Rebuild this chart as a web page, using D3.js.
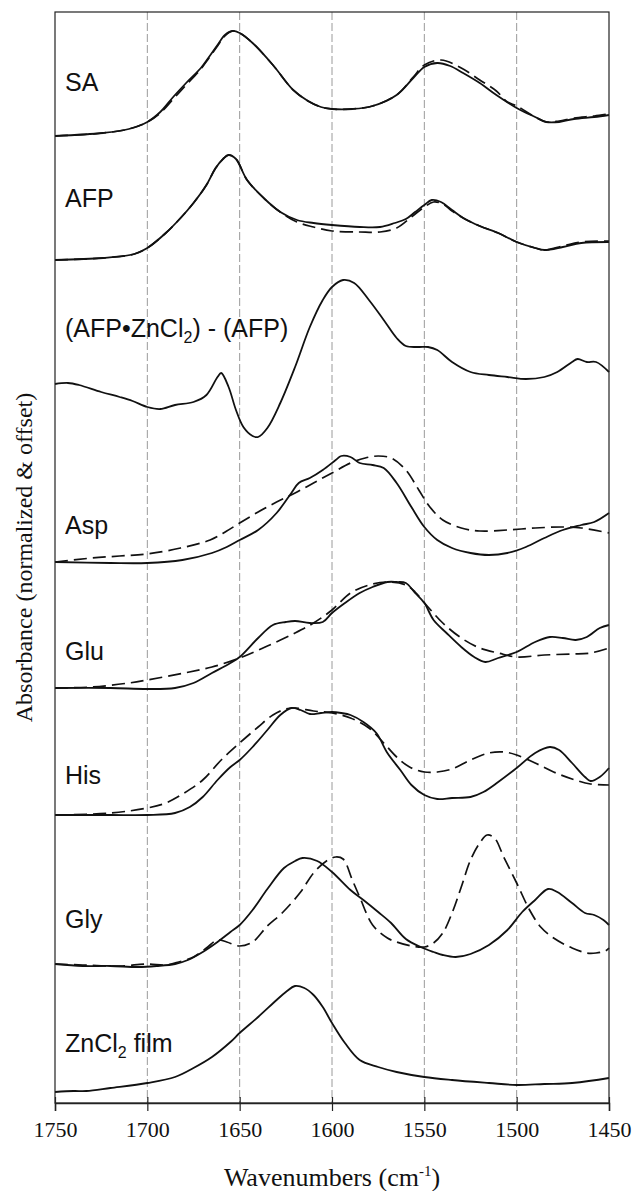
<!DOCTYPE html>
<html>
<head>
<meta charset="utf-8">
<script src="https://cdnjs.cloudflare.com/ajax/libs/d3/7.8.5/d3.min.js"></script>
<style>
  body { margin: 0; background: #fff; }
  svg { display: block; }
</style>
</head>
<body>
<svg></svg>
<script>
// x ticks (wavenumbers, axis runs high -> low)
var xTicks = [1750, 1700, 1650, 1600, 1550, 1500, 1450];
var gridTicks = [1700, 1650, 1600, 1550, 1500];

// spectra: [wavenumber, absorbance (normalized & offset)]
var saSolid = [[1750,9.67],[1724,9.70],[1710,9.74],[1700,9.81],[1693,9.91],[1686,10.06],[1679,10.20],[1671,10.35],[1667,10.45],[1662,10.58],[1658,10.68],[1654,10.72],[1650,10.70],[1643,10.60],[1632,10.38],[1621,10.13],[1613,10.02],[1606,9.96],[1600,9.94],[1589,9.94],[1578,9.97],[1565,10.08],[1556,10.25],[1550,10.36],[1543,10.40],[1536,10.37],[1529,10.30],[1520,10.20],[1511,10.08],[1500,9.95],[1490,9.86],[1484,9.81],[1477,9.81],[1469,9.84],[1458,9.86],[1450,9.88]];
var saDash = [[1750,9.67],[1724,9.70],[1710,9.74],[1700,9.81],[1693,9.90],[1686,10.04],[1679,10.18],[1671,10.34],[1667,10.44],[1662,10.57],[1658,10.67],[1654,10.72],[1650,10.70],[1643,10.60],[1632,10.38],[1621,10.13],[1613,10.02],[1606,9.96],[1600,9.94],[1589,9.94],[1578,9.97],[1565,10.08],[1556,10.26],[1550,10.38],[1541,10.43],[1530,10.35],[1520,10.23],[1511,10.12],[1505,10.01],[1500,9.97],[1490,9.86],[1484,9.81],[1477,9.82],[1469,9.85],[1458,9.87],[1450,9.89]];

var afpSolid = [[1750,8.43],[1724,8.45],[1707,8.49],[1700,8.55],[1690,8.70],[1682,8.85],[1675,9.00],[1668,9.18],[1663,9.35],[1659,9.44],[1656,9.48],[1652,9.44],[1646,9.23],[1637,9.05],[1628,8.91],[1619,8.83],[1610,8.80],[1600,8.78],[1585,8.76],[1574,8.76],[1566,8.80],[1560,8.84],[1555,8.91],[1550,8.98],[1546,9.03],[1541,9.01],[1535,8.93],[1528,8.84],[1520,8.77],[1510,8.70],[1500,8.61],[1490,8.55],[1485,8.53],[1475,8.56],[1465,8.60],[1450,8.61]];
var afpDash = [[1750,8.43],[1724,8.45],[1707,8.49],[1700,8.55],[1690,8.70],[1682,8.85],[1675,9.00],[1668,9.18],[1663,9.35],[1659,9.44],[1656,9.48],[1652,9.44],[1646,9.23],[1637,9.05],[1628,8.91],[1619,8.81],[1610,8.76],[1600,8.72],[1585,8.71],[1574,8.71],[1565,8.75],[1557,8.86],[1550,8.96],[1545,9.01],[1540,8.99],[1535,8.92],[1528,8.84],[1520,8.77],[1510,8.70],[1500,8.61],[1490,8.55],[1485,8.53],[1475,8.57],[1465,8.61],[1450,8.62]];

var diffSolid = [[1750,7.19],[1743,7.20],[1737,7.18],[1725,7.11],[1715,7.06],[1708,7.02],[1700,6.96],[1693,6.94],[1685,6.98],[1675,7.01],[1668,7.08],[1662,7.26],[1660,7.30],[1656,7.16],[1652,6.93],[1648,6.76],[1643,6.67],[1640,6.66],[1635,6.75],[1628,7.00],[1620,7.36],[1612,7.76],[1605,8.03],[1600,8.16],[1594,8.23],[1588,8.20],[1580,8.03],[1572,7.83],[1565,7.65],[1560,7.57],[1553,7.56],[1548,7.56],[1543,7.53],[1535,7.41],[1525,7.31],[1515,7.28],[1505,7.26],[1495,7.24],[1485,7.26],[1478,7.31],[1470,7.41],[1467,7.44],[1462,7.41],[1457,7.41],[1450,7.31]];

var aspSolid = [[1750,5.41],[1720,5.40],[1700,5.40],[1681,5.43],[1665,5.50],[1657,5.56],[1650,5.63],[1640,5.73],[1630,5.90],[1622,6.10],[1618,6.20],[1612,6.25],[1605,6.33],[1598,6.43],[1595,6.47],[1590,6.46],[1585,6.40],[1578,6.38],[1572,6.35],[1565,6.20],[1557,5.96],[1550,5.76],[1543,5.63],[1535,5.55],[1525,5.50],[1515,5.48],[1505,5.50],[1495,5.56],[1485,5.65],[1475,5.73],[1465,5.78],[1458,5.81],[1450,5.90]];
var aspDash = [[1750,5.41],[1730,5.45],[1715,5.47],[1700,5.49],[1682,5.55],[1666,5.63],[1657,5.72],[1650,5.80],[1640,5.91],[1630,6.01],[1620,6.10],[1610,6.20],[1600,6.30],[1590,6.40],[1582,6.45],[1575,6.47],[1568,6.45],[1560,6.33],[1553,6.13],[1547,5.96],[1540,5.83],[1530,5.75],[1520,5.72],[1505,5.73],[1490,5.75],[1475,5.76],[1465,5.75],[1450,5.70]];

var gluSolid = [[1750,4.15],[1720,4.15],[1700,4.14],[1685,4.15],[1675,4.20],[1665,4.30],[1655,4.40],[1650,4.46],[1640,4.65],[1632,4.78],[1625,4.81],[1620,4.82],[1612,4.80],[1605,4.81],[1600,4.90],[1593,5.00],[1585,5.10],[1578,5.16],[1570,5.21],[1565,5.21],[1560,5.20],[1555,5.10],[1550,5.00],[1545,4.83],[1538,4.70],[1530,4.56],[1523,4.46],[1517,4.41],[1510,4.45],[1500,4.51],[1490,4.61],[1482,4.66],[1475,4.65],[1468,4.63],[1462,4.66],[1455,4.75],[1450,4.78]];
var gluDash = [[1750,4.15],[1730,4.16],[1710,4.20],[1700,4.23],[1680,4.30],[1665,4.36],[1650,4.45],[1635,4.57],[1620,4.70],[1610,4.80],[1600,4.93],[1590,5.10],[1580,5.18],[1570,5.21],[1560,5.18],[1555,5.11],[1548,4.96],[1540,4.80],[1530,4.65],[1520,4.55],[1510,4.50],[1500,4.46],[1485,4.48],[1470,4.49],[1460,4.50],[1450,4.55]];

var hisSolid = [[1750,2.88],[1720,2.88],[1700,2.88],[1685,2.90],[1677,2.96],[1670,3.06],[1662,3.23],[1655,3.36],[1650,3.43],[1643,3.56],[1635,3.73],[1628,3.88],[1622,3.95],[1617,3.93],[1612,3.89],[1606,3.90],[1600,3.91],[1595,3.90],[1590,3.88],[1583,3.81],[1576,3.70],[1570,3.50],[1563,3.33],[1557,3.18],[1550,3.08],[1543,3.04],[1535,3.05],[1525,3.06],[1518,3.11],[1510,3.21],[1500,3.35],[1490,3.50],[1482,3.56],[1477,3.53],[1470,3.40],[1463,3.26],[1460,3.22],[1455,3.26],[1450,3.35]];
var hisDash = [[1750,2.88],[1720,2.90],[1700,2.95],[1690,3.00],[1680,3.10],[1670,3.23],[1660,3.43],[1650,3.60],[1640,3.76],[1632,3.88],[1625,3.94],[1620,3.95],[1610,3.92],[1600,3.90],[1590,3.85],[1580,3.75],[1572,3.60],[1565,3.46],[1558,3.36],[1550,3.31],[1543,3.31],[1535,3.34],[1525,3.43],[1515,3.50],[1507,3.51],[1500,3.48],[1490,3.40],[1480,3.31],[1470,3.24],[1460,3.19],[1450,3.18]];

var glySolid = [[1750,1.39],[1735,1.37],[1720,1.37],[1705,1.36],[1695,1.37],[1685,1.39],[1678,1.43],[1670,1.51],[1662,1.61],[1655,1.71],[1650,1.78],[1643,1.93],[1635,2.14],[1626,2.35],[1620,2.42],[1616,2.45],[1608,2.42],[1600,2.31],[1590,2.13],[1583,2.03],[1575,1.91],[1568,1.80],[1560,1.64],[1552,1.56],[1545,1.51],[1540,1.48],[1533,1.46],[1525,1.49],[1515,1.58],[1505,1.73],[1497,1.91],[1490,2.03],[1483,2.14],[1478,2.11],[1470,2.00],[1463,1.90],[1458,1.88],[1453,1.83],[1450,1.78]];
var glyDash = [[1750,1.39],[1735,1.38],[1715,1.37],[1700,1.39],[1690,1.38],[1683,1.41],[1675,1.46],[1668,1.55],[1662,1.63],[1657,1.61],[1650,1.57],[1643,1.61],[1635,1.77],[1627,1.90],[1617,2.11],[1610,2.30],[1603,2.42],[1598,2.46],[1594,2.44],[1589,2.23],[1585,2.06],[1578,1.78],[1570,1.65],[1565,1.61],[1557,1.57],[1550,1.56],[1545,1.60],[1540,1.70],[1535,1.90],[1530,2.16],[1525,2.43],[1520,2.60],[1516,2.68],[1512,2.65],[1507,2.46],[1500,2.20],[1493,1.93],[1487,1.76],[1480,1.65],[1470,1.55],[1462,1.50],[1457,1.50],[1452,1.52],[1450,1.55]];

var zncl2Film = [[1750,0.11],[1740,0.12],[1733,0.12],[1720,0.15],[1700,0.20],[1685,0.26],[1675,0.35],[1665,0.46],[1655,0.61],[1650,0.70],[1640,0.86],[1630,1.03],[1625,1.11],[1620,1.17],[1615,1.15],[1610,1.08],[1605,0.96],[1600,0.80],[1593,0.60],[1585,0.43],[1575,0.36],[1565,0.31],[1550,0.26],[1535,0.23],[1515,0.20],[1500,0.18],[1485,0.19],[1470,0.20],[1450,0.25]];

// sample labels: [text, subscript, rest, y value of baseline]
var labels = [
    ["SA", "", "", 10.12],
    ["AFP", "", "", 8.96],
    ["(AFP\u2022ZnCl", "2", ") - (AFP)", 7.66],
    ["Asp", "", "", 5.69],
    ["Glu", "", "", 4.43],
    ["His", "", "", 3.19],
    ["Gly", "", "", 1.75],
    ["ZnCl", "2", " film", 0.51]
];

var width = 633, height = 1191;
var margin = {top: 12, right: 24, bottom: 88, left: 55};
var svg = d3.select("svg").attr("width", width).attr("height", height);
var g = svg.append("g");

var x = d3.scaleLinear()
    .domain([1750, 1450])
    .range([margin.left, width - margin.right]);
var y = d3.scaleLinear()
    .domain([0, 10.91])
    .range([height - margin.bottom, margin.top]);

// dashed vertical grid
g.selectAll(".grid")
    .data(gridTicks)
    .enter().append("line")
    .attr("class", "grid")
    .attr("x1", function (d) { return x(d); })
    .attr("x2", function (d) { return x(d); })
    .attr("y1", margin.top)
    .attr("y2", height - margin.bottom)
    .style("stroke", "#9a9a9a")
    .style("stroke-width", 1)
    .style("stroke-dasharray", "8,3");

var line = d3.line()
    .x(function (d) { return x(d[0]); })
    .y(function (d) { return y(d[1]); })
    .curve(d3.curveCatmullRom.alpha(0.5));

var dashed = [saDash, afpDash, aspDash, gluDash, hisDash, glyDash];
var solid = [saSolid, afpSolid, diffSolid, aspSolid, gluSolid, hisSolid, glySolid, zncl2Film];

g.selectAll(".dash")
    .data(dashed)
    .enter().append("path")
    .attr("class", "dash")
    .attr("d", line)
    .style("fill", "none")
    .style("stroke", "#111")
    .style("stroke-width", 1.7)
    .style("stroke-dasharray", "13,6");

g.selectAll(".solid")
    .data(solid)
    .enter().append("path")
    .attr("class", "solid")
    .attr("d", line)
    .style("fill", "none")
    .style("stroke", "#111")
    .style("stroke-width", 1.8);

// frame
g.append("rect")
    .attr("x", margin.left)
    .attr("y", margin.top)
    .attr("width", width - margin.left - margin.right)
    .attr("height", height - margin.top - margin.bottom)
    .style("fill", "none")
    .style("stroke", "#222")
    .style("stroke-width", 1.2);

var xAxis = g.append("g")
    .attr("transform", "translate(0," + (height - margin.bottom) + ")")
    .call(d3.axisBottom(x).tickValues(xTicks).tickSize(8).tickFormat(d3.format("d")));
xAxis.select(".domain").style("stroke", "#222").style("stroke-width", 1.5);
xAxis.selectAll(".tick line").attr("y1", -6).style("stroke", "#222").style("stroke-width", 1.2);
xAxis.selectAll(".tick text")
    .attr("y", 34)
    .attr("dy", 0)
    .style("font-family", "'Liberation Serif', 'Times New Roman', serif")
    .style("font-size", "22px")
    .style("fill", "#111");

// axis titles
var xt = svg.append("text")
    .attr("x", (margin.left + width - margin.right) / 2)
    .attr("y", 1186)
    .attr("text-anchor", "middle")
    .style("font-family", "'Liberation Serif', 'Times New Roman', serif")
    .style("font-size", "26px")
    .style("fill", "#111");
xt.append("tspan").text("Wavenumbers (cm");
xt.append("tspan").attr("dy", -10).style("font-size", "15px").text("-1");
xt.append("tspan").attr("dy", 10).text(")");

svg.append("text")
    .attr("transform", "translate(32," + ((margin.top + height - margin.bottom) / 2) + ") rotate(-90)")
    .attr("text-anchor", "middle")
    .style("font-family", "'Liberation Serif', 'Times New Roman', serif")
    .style("font-size", "24px")
    .style("fill", "#111")
    .text("Absorbance (normalized & offset)");

// sample names
var lab = g.selectAll(".lab")
    .data(labels)
    .enter().append("text")
    .attr("class", "lab")
    .attr("x", margin.left + 10)
    .attr("y", function (d) { return y(d[3]); })
    .style("font-family", "'Liberation Sans', Arial, sans-serif")
    .style("font-size", "25px")
    .style("fill", "#111");
lab.append("tspan").text(function (d) { return d[0]; });
lab.filter(function (d) { return d[1] !== ""; })
    .append("tspan").attr("dy", 6).style("font-size", "16px").text(function (d) { return d[1]; });
lab.filter(function (d) { return d[2] !== ""; })
    .append("tspan").attr("dy", -6).text(function (d) { return d[2]; });
</script>
</body>
</html>
